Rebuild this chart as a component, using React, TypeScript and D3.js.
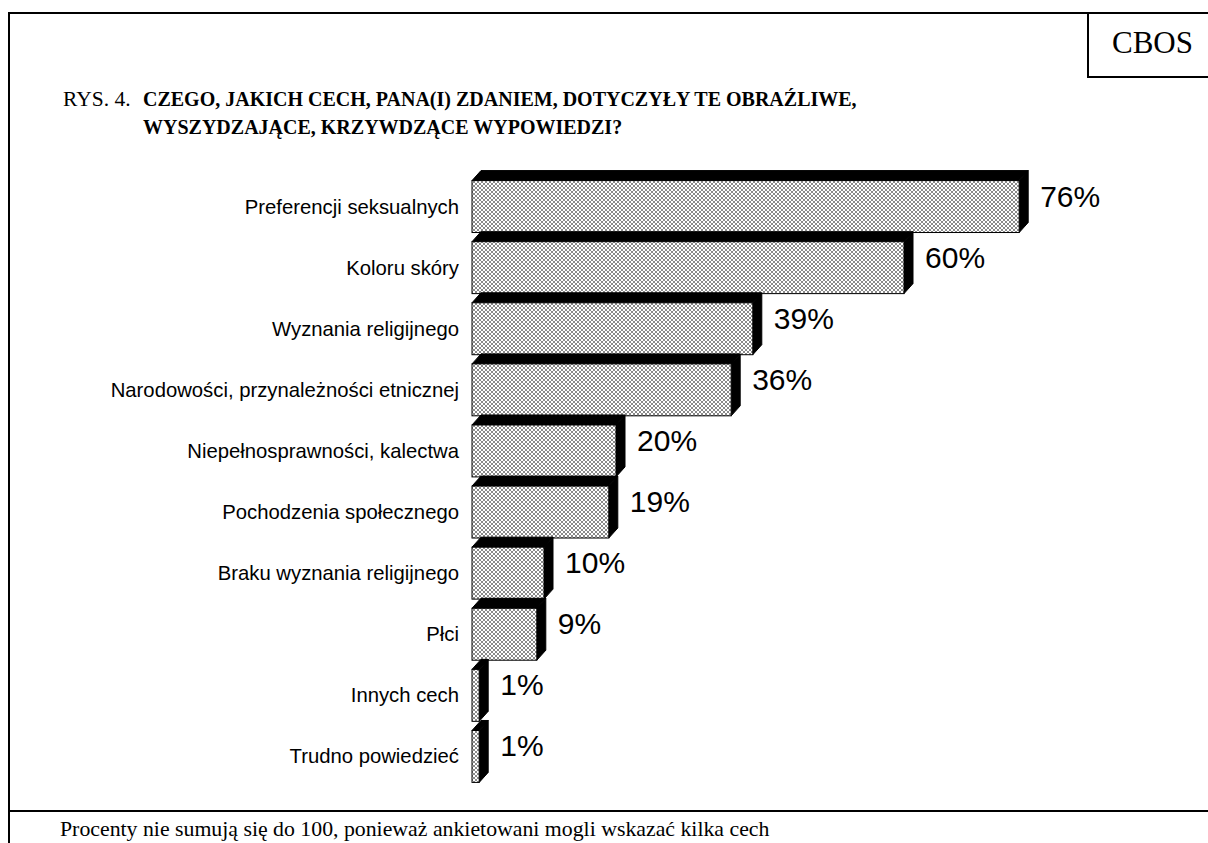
import React from "react";
import * as d3 from "d3";

const categories = [
  "Preferencji seksualnych",
  "Koloru skóry",
  "Wyznania religijnego",
  "Narodowości, przynależności etnicznej",
  "Niepełnosprawności, kalectwa",
  "Pochodzenia społecznego",
  "Braku wyznania religijnego",
  "Płci",
  "Innych cech",
  "Trudno powiedzieć",
];
const values = [76, 60, 39, 36, 20, 19, 10, 9, 1, 1];
const titlePrefix = "RYS. 4.";
const titleLine1 = "CZEGO, JAKICH CECH, PANA(I) ZDANIEM, DOTYCZYŁY TE OBRAŹLIWE,";
const titleLine2 = "WYSZYDZAJĄCE, KRZYWDZĄCE WYPOWIEDZI?";
const footnote = "Procenty nie sumują się do 100, ponieważ ankietowani mogli wskazać kilka cech";
const source = "CBOS";

const W = 1208;
const H = 843;
const SERIF = "'Liberation Serif', 'Times New Roman', serif";
const SANS = "'Liberation Sans', Arial, sans-serif";

export default function App() {
  const x = d3.scaleLinear().domain([0, 100]).range([472, 1192]);
  const y = d3
    .scaleBand<string>()
    .domain(categories)
    .range([176, 787])
    .paddingInner(0.15)
    .paddingOuter(0.075);
  const dx = 9;
  const dy = 10;
  const bw = y.bandwidth();
  const line = d3.line();
  const dark = [
    [0, 0], [1, 1], [2, 2], [3, 3], [3, 0], [2, 1], [1, 2], [0, 3],
  ];

  return (
    <svg
      width={W}
      height={H}
      style={{ position: "absolute", left: 0, top: 0, background: "#fff" }}
    >
      <defs>
        <pattern id="chk" width={4} height={4} patternUnits="userSpaceOnUse">
          <rect width={4} height={4} fill="#ffffff" />
          {dark.map(([px, py], k) => (
            <rect key={k} x={px} y={py} width={1} height={1} fill="#8a8a8a" />
          ))}
        </pattern>
      </defs>

      {/* frame */}
      <line x1={9} y1={12} x2={9} y2={H} stroke="#000" strokeWidth={2} />
      <line x1={8} y1={13} x2={W} y2={13} stroke="#000" strokeWidth={2} />
      <line x1={8} y1={811} x2={W} y2={811} stroke="#000" strokeWidth={2} />
      <line x1={1088} y1={12} x2={1088} y2={78} stroke="#000" strokeWidth={2} />
      <line x1={1087} y1={77} x2={W} y2={77} stroke="#000" strokeWidth={2} />
      <text x={1112} y={53} fontFamily={SERIF} fontSize={31} fill="#000">
        {source}
      </text>

      {/* title */}
      <text x={63} y={106} fontFamily={SERIF} fontSize={21.5} fill="#000">
        {titlePrefix}
      </text>
      <text x={143} y={106} fontFamily={SERIF} fontSize={20} fontWeight="bold" fill="#000">
        {titleLine1}
      </text>
      <text x={143} y={134} fontFamily={SERIF} fontSize={20} fontWeight="bold" fill="#000">
        {titleLine2}
      </text>

      {/* bars */}
      {categories.map((c, i) => {
        const y0 = y(c) as number;
        const y1 = y0 + bw;
        const x0 = x(0);
        const x1 = x(values[i]);
        const top =
          line([
            [x0, y0],
            [x0 + dx, y0 - dy],
            [x1 + dx, y0 - dy],
            [x1, y0],
          ]) + "Z";
        const side =
          line([
            [x1, y0],
            [x1 + dx, y0 - dy],
            [x1 + dx, y1 - dy],
            [x1, y1],
          ]) + "Z";
        const cy = y0 + bw / 2;
        return (
          <g key={c}>
            <path d={top} fill="#000" stroke="#000" strokeWidth={1} />
            <path d={side} fill="#000" stroke="#000" strokeWidth={1} />
            <rect
              x={x0}
              y={y0}
              width={x1 - x0}
              height={bw}
              fill="url(#chk)"
              stroke="#000"
              strokeWidth={1}
            />
            <text
              x={459}
              y={cy + 7}
              textAnchor="end"
              fontFamily={SANS}
              fontSize={20.3}
              fill="#000"
            >
              {c}
            </text>
            <text x={x1 + dx + 12} y={cy} fontFamily={SANS} fontSize={30} fill="#000">
              {values[i]}%
            </text>
          </g>
        );
      })}

      {/* footnote */}
      <text x={60} y={836} fontFamily={SERIF} fontSize={21.8} fill="#000">
        {footnote}
      </text>
    </svg>
  );
}
